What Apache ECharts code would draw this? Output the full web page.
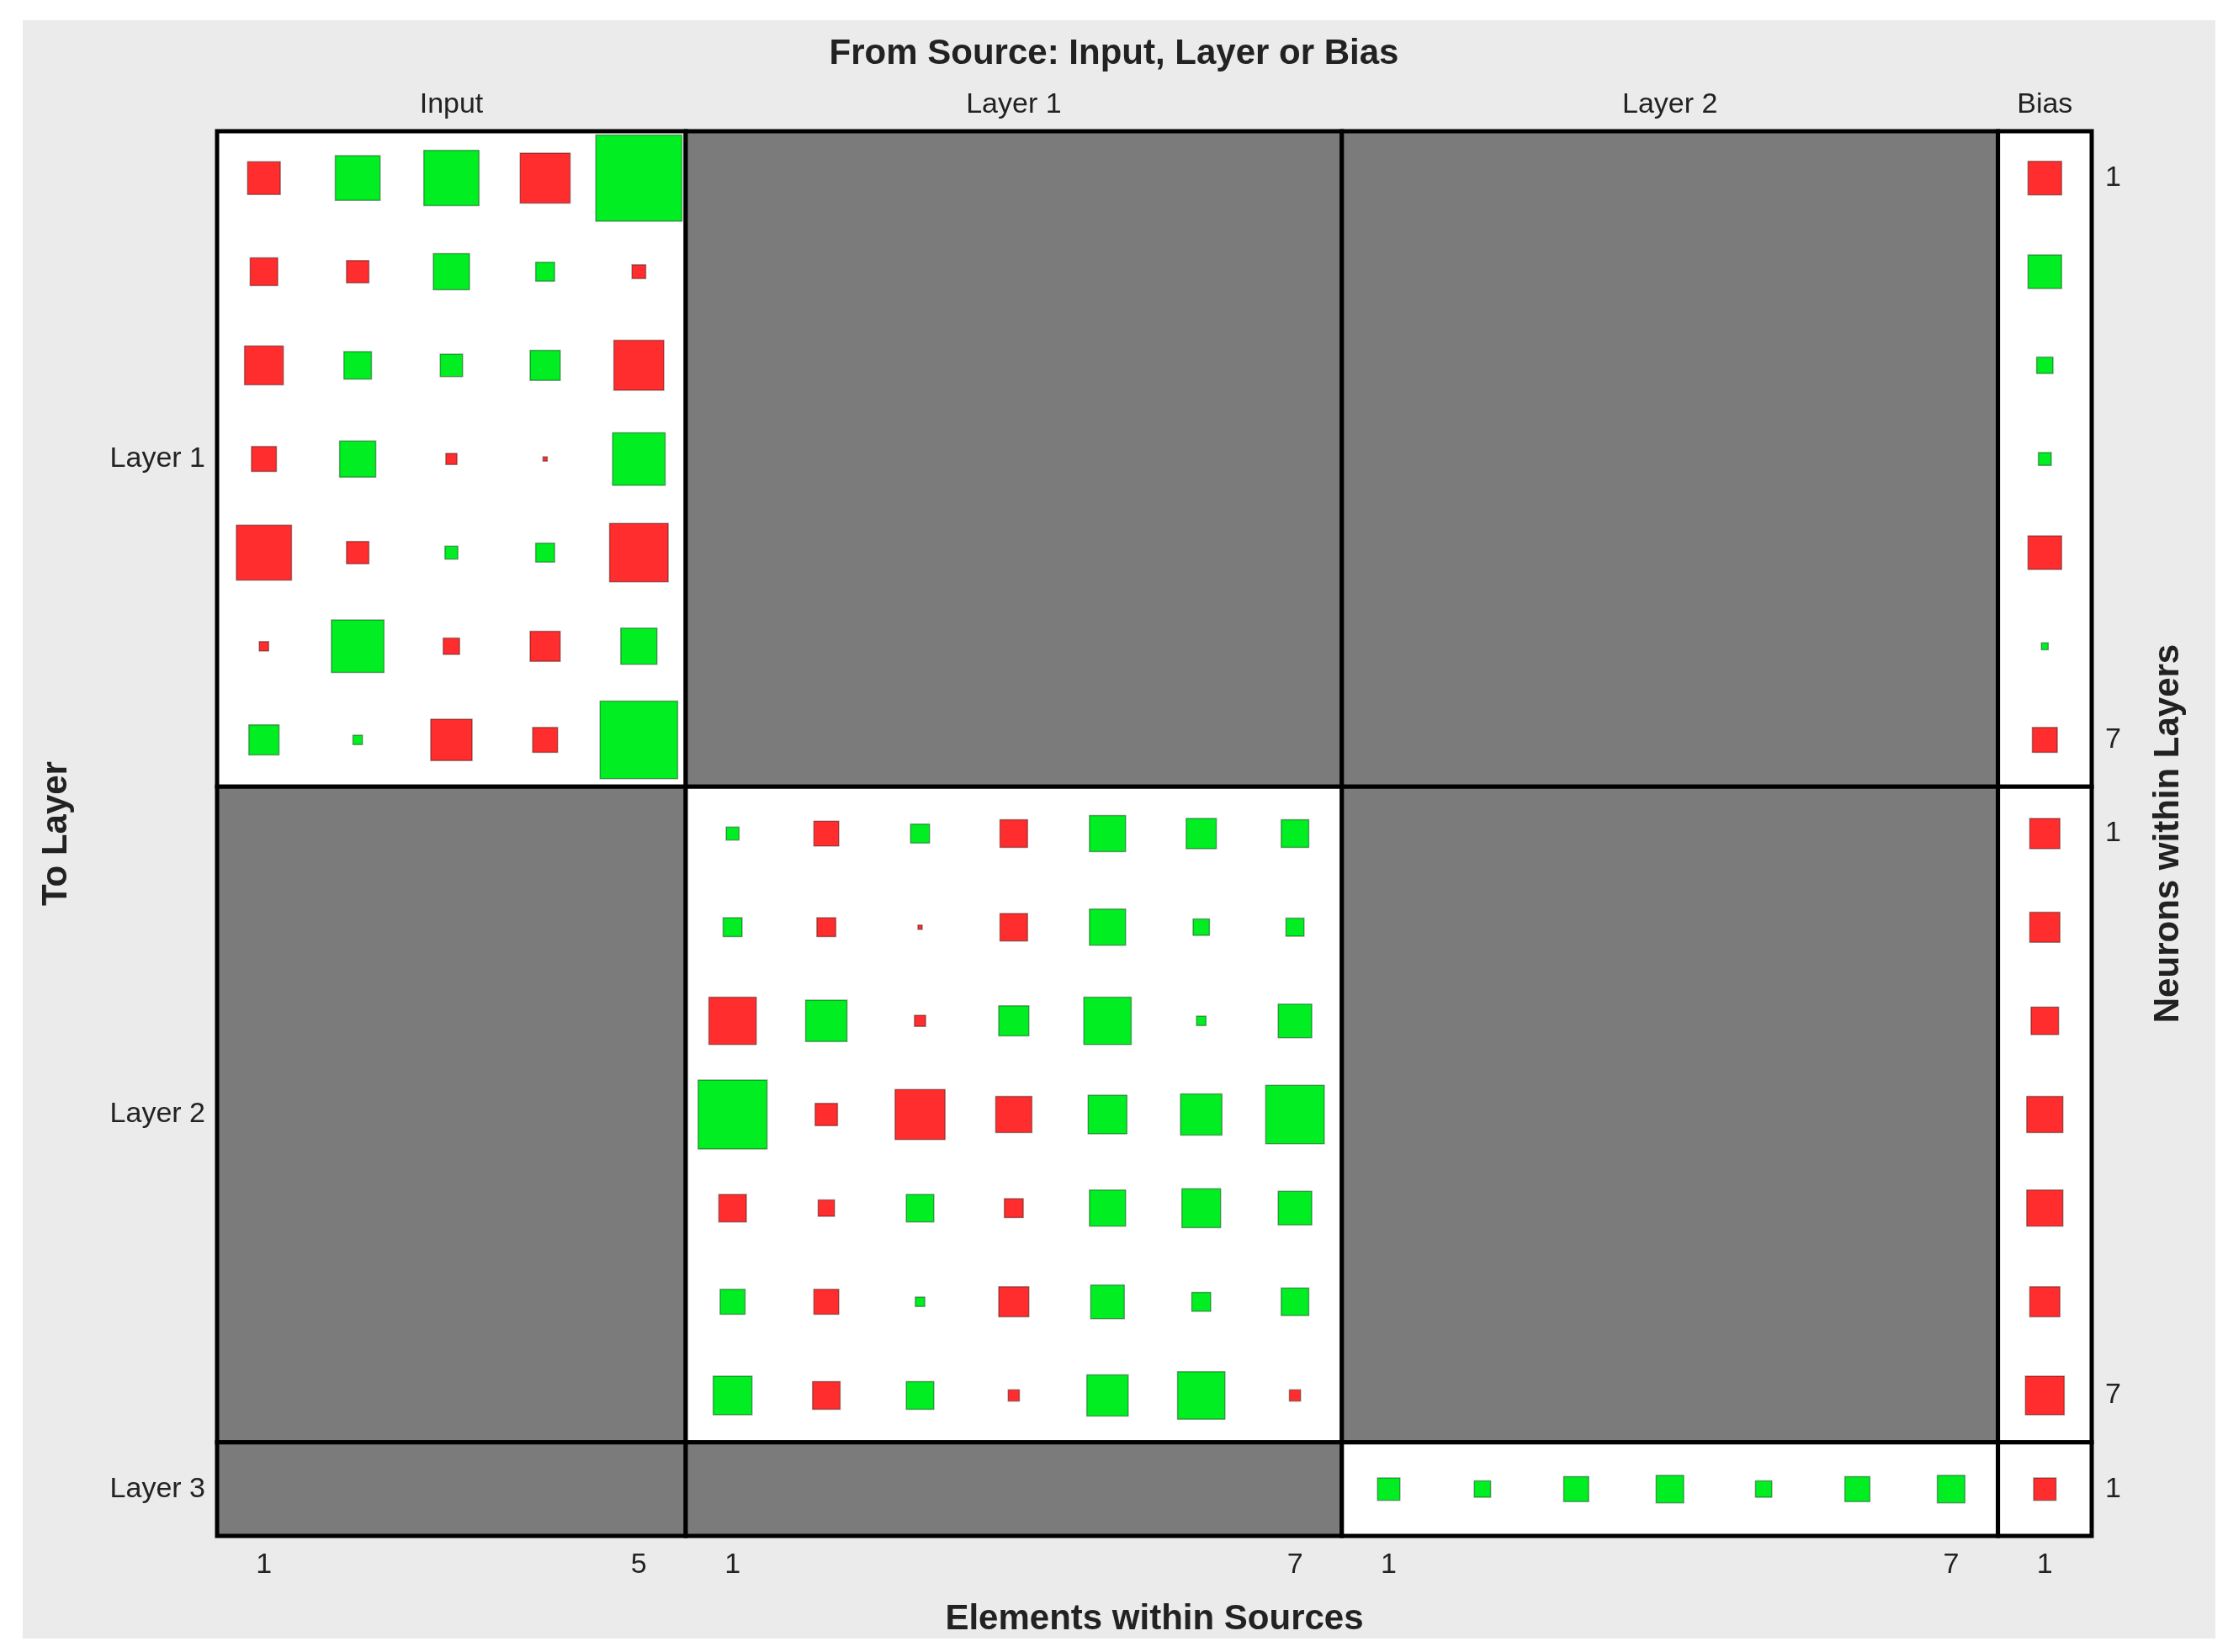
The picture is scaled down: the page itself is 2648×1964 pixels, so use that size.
<!DOCTYPE html>
<html><head><meta charset="utf-8">
<script src="https://cdn.jsdelivr.net/npm/echarts@6/dist/echarts.min.js"></script>
<style>html,body{margin:0;padding:0;background:#fff}#c{width:2648px;height:1964px}</style>
</head><body><div id="c"></div>
<script>
// Weights (fraction of cell size; sign: + green, - red)
const inputToL1 = [
 [-0.38, 0.52, 0.64,-0.58, 1.00],
 [-0.32,-0.26, 0.42, 0.22,-0.16],
 [-0.45, 0.32, 0.26, 0.35,-0.58],
 [-0.29, 0.42,-0.13,-0.05, 0.61],
 [-0.64,-0.26, 0.15, 0.22,-0.68],
 [-0.11, 0.61,-0.19,-0.35, 0.42],
 [ 0.35, 0.11,-0.48,-0.29, 0.90]
];
const l1ToL2 = [
 [ 0.15,-0.29, 0.22,-0.32, 0.42, 0.35, 0.32],
 [ 0.22,-0.22,-0.05,-0.32, 0.42, 0.19, 0.21],
 [-0.55, 0.48,-0.13, 0.35, 0.55, 0.11, 0.39],
 [ 0.80,-0.26,-0.58,-0.42, 0.45, 0.48, 0.68],
 [-0.32,-0.19, 0.32,-0.22, 0.42, 0.45, 0.39],
 [ 0.29,-0.29, 0.11,-0.35, 0.39, 0.22, 0.32],
 [ 0.45,-0.32, 0.32,-0.13, 0.48, 0.55,-0.13]
];
const l2ToL3 = [[0.26, 0.19, 0.29, 0.32, 0.19, 0.29, 0.32]];
const bias = [-0.39, 0.39, 0.19, 0.15,-0.39, 0.08,-0.29, -0.35,-0.35,-0.32,-0.42,-0.42,-0.35,-0.45, -0.26];
const topLabels = {2.5:'Input', 8.5:'Layer 1', 15.5:'Layer 2', 19.5:'Bias'};
const bottomLabels = {0.5:'1', 4.5:'5', 5.5:'1', 11.5:'7', 12.5:'1', 18.5:'7', 19.5:'1'};
const leftLabels = {3.5:'Layer 1', 10.5:'Layer 2', 14.5:'Layer 3'};
const rightLabels = {0.5:'1', 6.5:'7', 7.5:'1', 13.5:'7', 14.5:'1'};
const colBounds = [0,5,12,19,20];
const rowBounds = [0,7,14,15];
const connected = [[0,0],[1,1],[2,2]]; // [colBlock,rowBlock] pairs that are white (plus bias column)

const pts = [];
function add(mat, c0, r0){ mat.forEach((row,i)=>row.forEach((v,j)=>pts.push([c0+j+0.5, r0+i+0.5, v]))); }
add(inputToL1,0,0); add(l1ToL2,5,7); add(l2ToL3,12,14);
bias.forEach((v,i)=>pts.push([19.5,i+0.5,v]));

const L=258, R=162, T=156, B=138;
const cell=(2648-L-R)/20;
const areas=[];
for(let rb=0;rb<3;rb++)for(let cb=0;cb<4;cb++){
  const white = cb===3 || connected.some(p=>p[0]===cb&&p[1]===rb);
  areas.push([{xAxis:colBounds[cb],yAxis:rowBounds[rb],itemStyle:{color:white?'#ffffff':'#7b7b7b',borderColor:'#000',borderWidth:5}},{xAxis:colBounds[cb+1],yAxis:rowBounds[rb+1]}]);
}
const lab={fontFamily:'Arial, Liberation Sans',fontSize:34,color:'#222'};
const fmt=m=>v=>{const k=(Math.round(v*2)/2);return m[k]!==undefined?m[k]:'';};
const chart=echarts.init(document.getElementById('c'));
chart.setOption({
  animation:false,
  graphic:[{type:'rect',shape:{x:27,y:24,width:2606,height:1924},style:{fill:'#ebebeb'},z:-10}],
  title:{text:'From Source: Input, Layer or Bias',left:'center',top:38,textStyle:{fontFamily:'Arial, Liberation Sans',fontSize:42,fontWeight:'bold',color:'#222'}},
  grid:{left:L,right:R,top:T,bottom:B},
  xAxis:[
   {type:'value',min:0,max:20,interval:0.5,position:'bottom',axisLine:{show:false},axisTick:{show:false},splitLine:{show:false},
    axisLabel:{...lab,margin:18,formatter:fmt(bottomLabels)},
    name:'Elements within Sources',nameLocation:'middle',nameGap:78,nameTextStyle:{fontFamily:'Arial, Liberation Sans',fontSize:42,fontWeight:'bold',color:'#222'}},
   {type:'value',min:0,max:20,interval:0.5,position:'top',axisLine:{show:false},axisTick:{show:false},splitLine:{show:false},
    axisLabel:{...lab,margin:14,formatter:fmt(topLabels)}}
  ],
  yAxis:[
   {type:'value',min:0,max:15,interval:0.5,inverse:true,position:'left',axisLine:{show:false},axisTick:{show:false},splitLine:{show:false},
    axisLabel:{...lab,margin:14,formatter:fmt(leftLabels)},
    name:'To Layer',nameLocation:'middle',nameGap:170,nameTextStyle:{fontFamily:'Arial, Liberation Sans',fontSize:42,fontWeight:'bold',color:'#222'}},
   {type:'value',min:0,max:15,interval:0.5,inverse:true,position:'right',axisLine:{show:false},axisTick:{show:false},splitLine:{show:false},
    axisLabel:{...lab,margin:16,formatter:fmt(rightLabels)},
    name:'Neurons within Layers',nameLocation:'middle',nameGap:70,nameRotate:90,nameTextStyle:{fontFamily:'Arial, Liberation Sans',fontSize:42,fontWeight:'bold',color:'#222'}}
  ],
  series:[
   {type:'scatter',data:[],markArea:{silent:true,data:areas},z:1},
   {type:'scatter',symbol:'rect',data:pts,z:5,
    symbolSize:d=>Math.max(3,Math.abs(d[2])*cell*0.92),
    itemStyle:{color:p=>p.data[2]>=0?'#00ee22':'#ff2d2d',borderColor:'rgba(0,0,0,0.35)',borderWidth:1.5,opacity:1}}
  ]
});
</script></body></html>
